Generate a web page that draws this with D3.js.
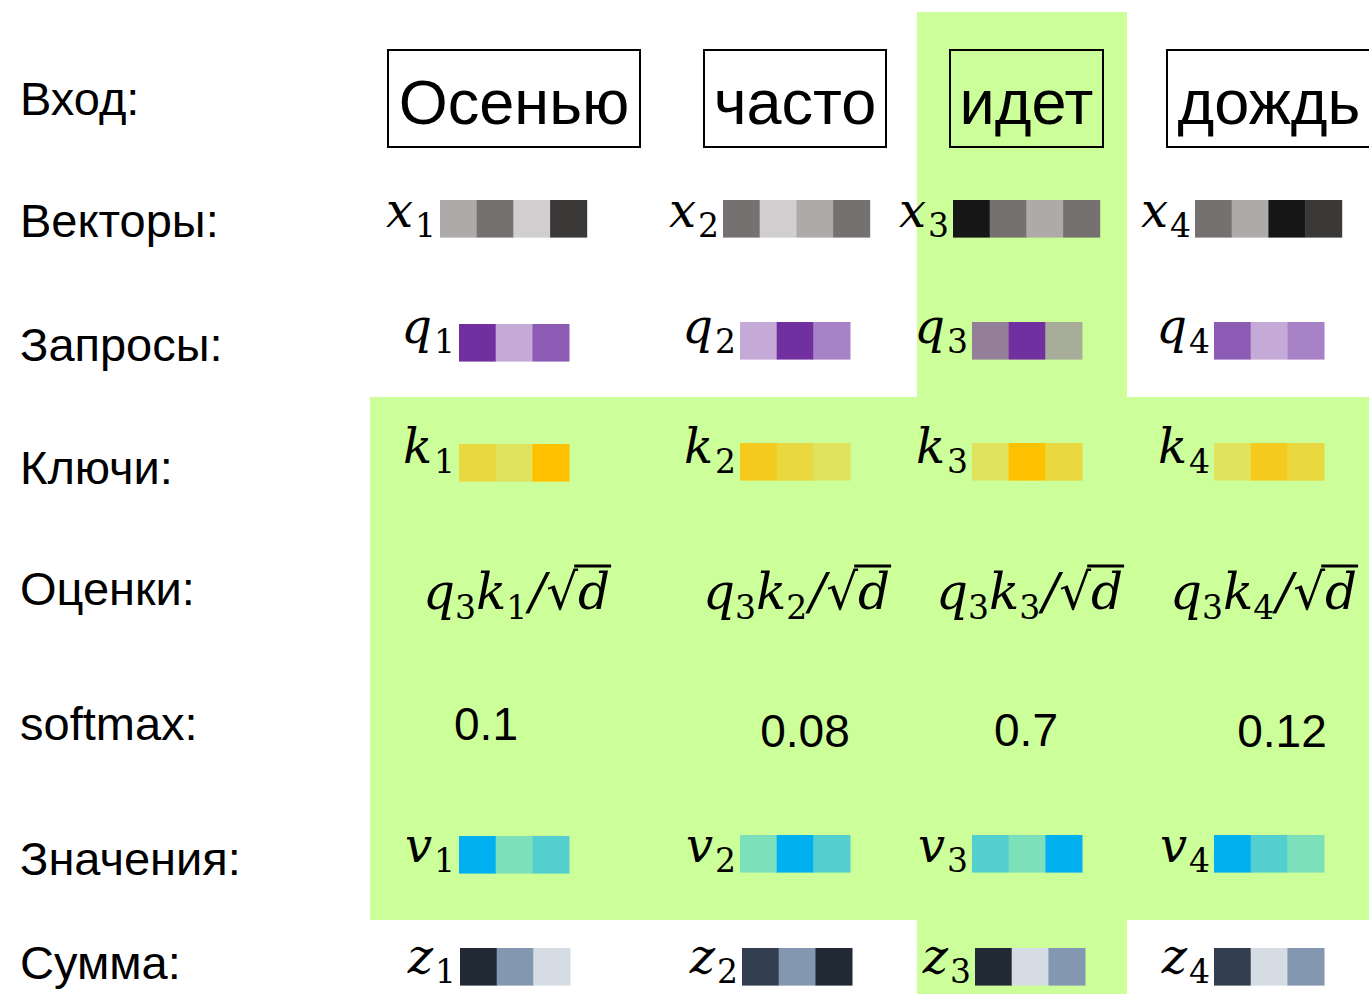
<!DOCTYPE html>
<html>
<head>
<meta charset="utf-8">
<script src="https://cdn.jsdelivr.net/npm/d3@7"></script>
<style>
  body { margin: 0; background: #fff; }
</style>
</head>
<body>
<div id="chart"></div>
<script>
// self-attention diagram, query = 3rd word

const width = 1369;
const height = 994;

const tokens = ["Осенью", "часто", "идет", "дождь"];
const rowLabels = ["Вход:", "Векторы:", "Запросы:", "Ключи:", "Оценки:", "softmax:", "Значения:", "Сумма:"];

// cell colours for each vector
const xColors = [
  ["#AEAAAA", "#767171", "#D0CECE", "#3B3838"],
  ["#767171", "#D0CECE", "#AEAAAA", "#767171"],
  ["#161616", "#767171", "#AEAAAA", "#767171"],
  ["#767171", "#AEAAAA", "#161616", "#3B3838"]
];
const qColors = [
  ["#7030A0", "#C5AAD8", "#8C5CB4"],
  ["#C5AAD8", "#7030A0", "#A882C6"],
  ["#947F98", "#7030A0", "#A8AD9A"],
  ["#8C5CB4", "#C5AAD8", "#A882C6"]
];
const kColors = [
  ["#E9D83F", "#E0E35E", "#FFC000"],
  ["#F4CA1F", "#E9D83F", "#E0E35E"],
  ["#E0E35E", "#FFC000", "#E9D83F"],
  ["#E0E35E", "#F4CA1F", "#E9D83F"]
];
const vColors = [
  ["#00B0F0", "#7CE0BA", "#52CFCE"],
  ["#7CE0BA", "#00B0F0", "#52CFCE"],
  ["#52CFCE", "#7CE0BA", "#00B0F0"],
  ["#00B0F0", "#52CFCE", "#7CE0BA"]
];
const zColors = [
  ["#222A35", "#8497B0", "#D6DCE4"],
  ["#333F50", "#8497B0", "#222A35"],
  ["#222A35", "#D6DCE4", "#8497B0"],
  ["#333F50", "#D6DCE4", "#8497B0"]
];
const softmaxValues = [0.1, 0.08, 0.7, 0.12];
const queryIndex = 2;

const green = "#CCFF99";
const sansFont = "'Liberation Sans', Arial, sans-serif";
const mathFont = "'DejaVu Serif', 'Liberation Serif', serif";

const svg = d3.select("#chart")
  .append("svg")
  .attr("width", width)
  .attr("height", height);

// row baselines
const rowY = d3.scaleOrdinal()
  .domain(rowLabels)
  .range([115, 237, 361, 484, 605, 740, 875, 979]);

// highlighted areas
svg.append("rect")
  .attr("x", 370).attr("y", 397)
  .attr("width", width - 370).attr("height", 920 - 397)
  .attr("fill", green);
svg.append("rect")
  .attr("x", 917).attr("y", 12)
  .attr("width", 1127 - 917).attr("height", height - 12)
  .attr("fill", green);

// row labels
svg.selectAll(".row-label")
  .data(rowLabels)
  .enter()
  .append("text")
    .attr("class", "row-label")
    .attr("x", 20)
    .attr("y", d => rowY(d))
    .attr("font-family", sansFont)
    .attr("font-size", "47px")
    .attr("fill", "#000")
    .text(d => d);

// input words in boxes
const boxLeft = d3.scaleOrdinal().domain(d3.range(4)).range([388, 704, 950, 1167]);
const boxRight = d3.scaleOrdinal().domain(d3.range(4)).range([640, 886, 1103, 1371]);

const words = svg.selectAll(".word")
  .data(tokens)
  .enter()
  .append("g")
    .attr("class", "word");

words.append("rect")
  .attr("x", (d, i) => boxLeft(i))
  .attr("y", 50)
  .attr("width", (d, i) => boxRight(i) - boxLeft(i))
  .attr("height", 97)
  .attr("fill", "none")
  .attr("stroke", "#000")
  .attr("stroke-width", 2);

words.append("text")
  .attr("x", (d, i) => (boxLeft(i) + boxRight(i)) / 2)
  .attr("y", 124)
  .attr("text-anchor", "middle")
  .attr("font-family", sansFont)
  .attr("font-size", "63px")
  .text(d => d);

// vector rows: letter, colours, cell start per column, cell top per column
const cellW = 36.7;
const cellH = 37.6;

const vectorRows = [
  { letter: "x", colors: xColors, left: [440, 723, 953, 1195], top: [200, 200, 200, 200], base: 227 },
  { letter: "q", colors: qColors, left: [459, 740, 972, 1214], top: [324, 322, 322, 322], base: 343 },
  { letter: "k", colors: kColors, left: [459, 740, 972, 1214], top: [444, 443, 443, 443], base: 463 },
  { letter: "v", colors: vColors, left: [459, 740, 972, 1214], top: [836, 835, 835, 835], base: 862 },
  { letter: "z", colors: zColors, left: [460, 742, 975, 1214], top: [948, 948, 948, 948], base: 973 }
];

vectorRows.forEach(row => {
  const colX = d3.scaleOrdinal().domain(d3.range(4)).range(row.left);
  const colY = d3.scaleOrdinal().domain(d3.range(4)).range(row.top);
  const n = row.colors[0].length;
  const cellX = d3.scaleBand().domain(d3.range(n)).range([0, n * cellW]);

  row.colors.forEach((cols, i) => {
    const g = svg.append("g")
      .attr("transform", `translate(${colX(i)},${colY(i)})`);

    g.selectAll("rect")
      .data(cols)
      .enter()
      .append("rect")
        .attr("x", (d, j) => cellX(j))
        .attr("y", 0)
        .attr("width", cellX.bandwidth() + 0.4)
        .attr("height", cellH)
        .attr("fill", d => d);

    // label like x_1 right before the cells
    const lbl = svg.append("text")
      .attr("x", colX(i) - 4)
      .attr("y", row.base)
      .attr("text-anchor", "end")
      .attr("font-family", mathFont)
      .attr("font-size", "48px");
    lbl.append("tspan")
      .attr("font-style", "italic")
      .text(row.letter);
    lbl.append("tspan")
      .attr("font-size", "33px")
      .attr("dx", 2)
      .attr("dy", 10)
      .text(i + 1);
  });
});

// scores q3 k_i / sqrt(d)
const scoreX = d3.scaleOrdinal().domain(d3.range(4)).range([423, 703, 936, 1170]);

tokens.forEach((t, i) => {
  const txt = svg.append("text")
    .attr("x", scoreX(i))
    .attr("y", 609)
    .attr("font-family", mathFont)
    .attr("font-size", "50px");
  txt.append("tspan").attr("font-style", "italic").text("q");
  txt.append("tspan").attr("font-size", "33px").attr("dy", 10).text(queryIndex + 1);
  txt.append("tspan").attr("font-style", "italic").attr("dy", -10).text("k");
  txt.append("tspan").attr("font-size", "33px").attr("dy", 10).text(i + 1);
  txt.append("tspan").attr("font-style", "italic").attr("dx", 2).attr("dy", -10).text("/");
  const root = txt.append("tspan").text("√");
  const d = txt.append("tspan").attr("font-style", "italic").text("d");

  // bar over d
  const rb = root.node().getBBox();
  const db = d.node().getBBox();
  svg.append("line")
    .attr("x1", rb.x + rb.width - 4)
    .attr("x2", db.x + db.width + 1)
    .attr("y1", 566)
    .attr("y2", 566)
    .attr("stroke", "#000")
    .attr("stroke-width", 3);
});

// softmax weights
const softX = d3.scaleOrdinal().domain(d3.range(4)).range([486, 805, 1026, 1282]);
const softY = d3.scaleOrdinal().domain(d3.range(4)).range([740, 747, 746, 747]);

svg.selectAll(".soft")
  .data(softmaxValues)
  .enter()
  .append("text")
    .attr("class", "soft")
    .attr("x", (d, i) => softX(i))
    .attr("y", (d, i) => softY(i))
    .attr("text-anchor", "middle")
    .attr("font-family", sansFont)
    .attr("font-size", "46px")
    .text(d => d);
</script>
</body>
</html>
